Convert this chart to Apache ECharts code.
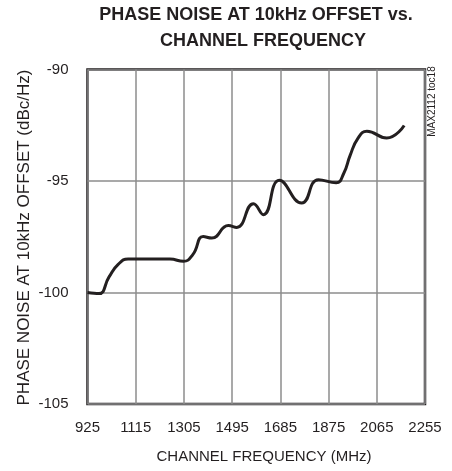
<!DOCTYPE html>
<html>
<head>
<meta charset="utf-8">
<script src="https://cdn.jsdelivr.net/npm/echarts@6/dist/echarts.min.js"></script>
<style>html,body{margin:0;padding:0;background:#fff;}#c{width:452px;height:471px;}</style>
</head>
<body>
<div id="c"></div>
<script>
const freqMHz = [925, 970, 1010, 1045, 1085, 1171, 1250, 1303, 1340, 1381, 1415, 1480, 1513, 1579, 1618, 1681, 1769, 1835, 1905, 1935, 1960, 1990, 2026, 2104, 2173];
const phaseNoise = [-100.0, -100.05, -99.3, -98.75, -98.5, -98.5, -98.5, -98.6, -98.3, -97.49, -97.56, -97.0, -97.08, -96.02, -96.51, -94.97, -95.99, -94.94, -95.08, -94.65, -93.85, -93.1, -92.77, -93.07, -92.51];
const xTickStart = 925, xTickStep = 190, xTickEnd = 2255;
const yMin = -105, yMax = -90, yStep = 5;
const titleLines = ['PHASE NOISE AT 10kHz OFFSET vs.', 'CHANNEL FREQUENCY'];
const xName = 'CHANNEL FREQUENCY (MHz)';
const yName = 'PHASE NOISE AT 10kHz OFFSET (dBc/Hz)';
const note = 'MAX2112 toc18';

const ink = '#231f20';
const font = '"Liberation Sans", Arial, sans-serif';
const chart = echarts.init(document.getElementById('c'), null, {renderer: 'canvas'});
const seriesData = freqMHz.map((f, i) => [f - xTickStart, phaseNoise[i]]);

chart.setOption({
  animation: false,
  backgroundColor: '#fff',
  grid: {left: 87.5, right: 27, top: 69.5, bottom: 67, show: true, borderColor: ink, borderWidth: 2.5, backgroundColor: 'transparent'},
  xAxis: {
    type: 'value', min: 0, max: xTickEnd - xTickStart, interval: xTickStep,
    axisLine: {show: false}, axisTick: {show: false},
    splitLine: {show: true, lineStyle: {color: '#8c8c8c', width: 1.5}},
    axisLabel: {margin: 16, color: ink, fontSize: 15, fontFamily: font, formatter: v => String(v + xTickStart), showMinLabel: true, showMaxLabel: true}
  },
  yAxis: {
    type: 'value', min: yMin, max: yMax, interval: yStep,
    axisLine: {show: false}, axisTick: {show: false},
    splitLine: {show: true, lineStyle: {color: '#8c8c8c', width: 1.5}},
    axisLabel: {margin: 19, color: ink, fontSize: 15, fontFamily: font}
  },
  series: [{
    type: 'line', data: seriesData, smooth: 0.5, showSymbol: false,
    lineStyle: {color: ink, width: 3}, z: 5
  }],
  graphic: [
    {type: 'text', x: 256, y: 15.5, style: {text: titleLines[0], font: 'bold 18px ' + font, fill: ink, align: 'center', verticalAlign: 'middle'}},
    {type: 'text', x: 263, y: 41.5, style: {text: titleLines[1], font: 'bold 18px ' + font, fill: ink, align: 'center', verticalAlign: 'middle'}},
    {type: 'text', x: 264, y: 456.5, style: {text: xName, font: '15px ' + font, fill: ink, align: 'center', verticalAlign: 'middle'}},
    {type: 'text', x: 24, y: 237.5, rotation: Math.PI / 2, style: {text: yName, font: '17px ' + font, fill: ink, align: 'center', verticalAlign: 'middle'}},
    {type: 'text', x: 432, y: 101.5, rotation: Math.PI / 2, style: {text: note, font: '10px ' + font, fill: ink, align: 'center', verticalAlign: 'middle'}}
  ]
});
</script>
</body>
</html>
